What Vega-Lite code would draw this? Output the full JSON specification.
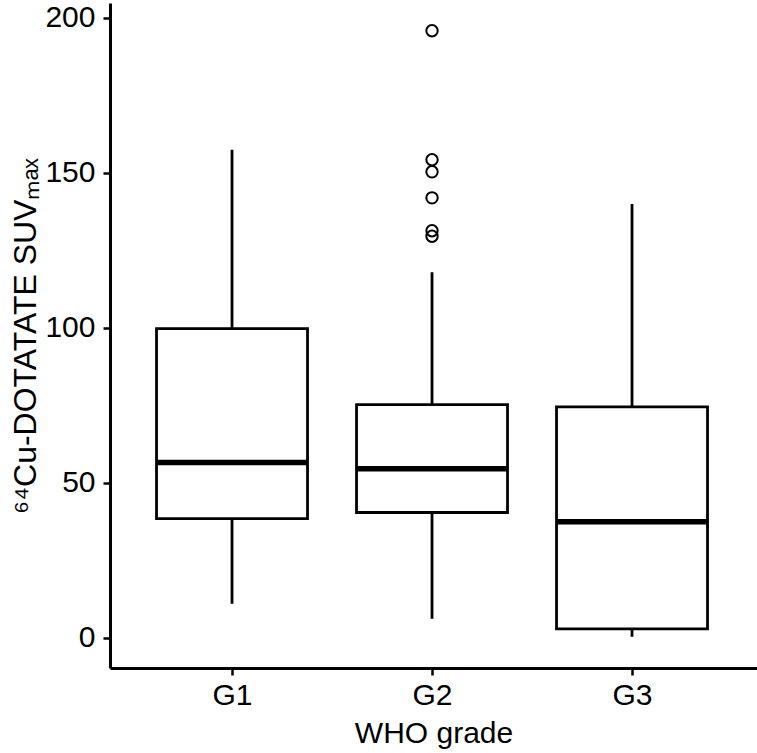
{
  "$schema": "https://vega.github.io/schema/vega-lite/v6.json",
  "width": 647,
  "height": 665,
  "autosize": {"type": "none"},
  "padding": {"left": 110, "top": 3, "right": 0, "bottom": 85},
  "background": "white",
  "config": {
    "view": {"stroke": null},
    "font": "Liberation Sans",
    "axis": {
      "grid": false,
      "domainColor": "black",
      "domainWidth": 3,
      "tickColor": "black",
      "tickWidth": 2.5,
      "tickSize": 7,
      "labelFontSize": 30,
      "labelColor": "black",
      "labelFont": "Liberation Sans",
      "titleFont": "Liberation Sans",
      "titleFontSize": 30,
      "titleFontWeight": "normal",
      "titleColor": "black"
    }
  },
  "datasets": {
    "boxes": [
      {"grade": "G1", "lower": 11.0, "q1": 38.4, "median": 56.5, "q3": 99.7, "upper": 157.4},
      {"grade": "G2", "lower": 6.1, "q1": 40.4, "median": 54.5, "q3": 75.2, "upper": 117.9},
      {"grade": "G3", "lower": 0.3, "q1": 2.9, "median": 37.4, "q3": 74.5, "upper": 139.9}
    ],
    "outliers": [
      {"grade": "G2", "value": 195.8},
      {"grade": "G2", "value": 154.2},
      {"grade": "G2", "value": 150.3},
      {"grade": "G2", "value": 141.9},
      {"grade": "G2", "value": 131.3},
      {"grade": "G2", "value": 129.5}
    ]
  },
  "encoding": {
    "x": {
      "field": "grade",
      "type": "nominal",
      "scale": {"type": "point", "padding": 0.6175, "align": 0.494},
      "axis": {"title": "WHO grade", "labelAngle": 0, "labelPadding": 5, "titlePadding": 8}
    }
  },
  "layer": [
    {
      "data": {"name": "boxes"},
      "mark": {"type": "rule", "color": "black", "strokeWidth": 2.8},
      "encoding": {
        "y": {
          "field": "lower",
          "type": "quantitative",
          "scale": {"domain": [-9.75, 204.75], "nice": false, "zero": false},
          "axis": {"title": "⁶⁴Cu-DOTATATE SUVₘₐₓ", "titleFontSize": 32, "values": [0, 50, 100, 150, 200], "labelPadding": 8, "titlePadding": 2}
        },
        "y2": {"field": "upper"}
      }
    },
    {
      "data": {"name": "boxes"},
      "mark": {"type": "bar", "size": 151, "fill": "white", "stroke": "black", "strokeWidth": 2.8},
      "encoding": {
        "y": {"field": "q1", "type": "quantitative"},
        "y2": {"field": "q3"}
      }
    },
    {
      "data": {"name": "boxes"},
      "mark": {"type": "tick", "size": 151, "thickness": 5.5, "color": "black", "opacity": 1},
      "encoding": {
        "y": {"field": "median", "type": "quantitative"}
      }
    },
    {
      "data": {"name": "outliers"},
      "mark": {"type": "point", "shape": "circle", "filled": false, "size": 130, "stroke": "black", "strokeWidth": 2, "opacity": 1},
      "encoding": {
        "y": {"field": "value", "type": "quantitative"}
      }
    }
  ]
}
